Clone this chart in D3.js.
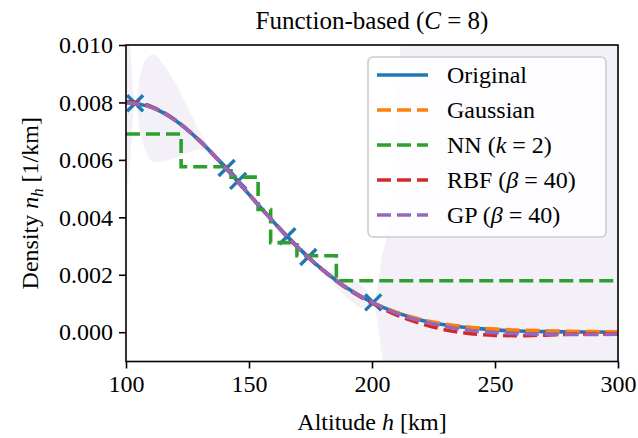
<!DOCTYPE html>
<html><head><meta charset="utf-8">
<script src="https://cdn.jsdelivr.net/npm/d3@7"></script>
<style>
html,body{margin:0;padding:0;background:#fff;}
svg text{font-family:"Liberation Serif","Times New Roman",Times,"DejaVu Serif",serif !important;}
</style></head>
<body>
<script>
// ---- data ----
const altitudes = [100,110,120,130,140,150,160,170,180,190,200,210,220,230,240,250,260,270,280,290,300];
const original  = [0.00800,0.00784,0.00738,0.00666,0.00577,0.00480,0.00384,0.00294,0.00217,0.00153,0.00104,0.00068,0.00042,0.00025,0.00015,0.00008,0.00004,0.00002,0.00001,0.000005,0.0];
const gaussian  = [0.00800,0.00784,0.00738,0.00666,0.00577,0.00480,0.00384,0.00294,0.00217,0.00153,0.00104,0.00069,0.00044,0.00028,0.00017,0.00011,0.00007,0.00005,0.00003,0.00002,0.00001];
const rbf       = [0.00803,0.00787,0.00739,0.00666,0.00577,0.00480,0.00384,0.00294,0.00216,0.00151,0.00101,0.00060,0.00030,0.00008,-0.00005,-0.00011,-0.00012,-0.00010,-0.00007,-0.00006,-0.00006];
const gp        = [0.00800,0.00785,0.00738,0.00666,0.00577,0.00480,0.00384,0.00294,0.00217,0.00153,0.00104,0.00066,0.00039,0.00020,0.00006,-0.00002,-0.00005,-0.00007,-0.00008,-0.00008,-0.00007];

const nnEdges  = [100,122.4,142.7,153.7,158.8,169.5,185.5,300];
const nnValues = [0.0069,0.00576,0.0054,0.00427,0.00312,0.00266,0.00179];

const sampleAlt = [103.7,140.9,145.6,165.6,174.1,200.5];
const sampleVal = [0.00797,0.00572,0.00527,0.00334,0.00262,0.00104];

const bandAlt   = [100,101.5,103.7,106,108,111,115,120,125,130,135,140.9,145.6,150,155,160,165.6,170,174.1,180,185,190,195,198,200.5,202,204,206,208,210,212,215,220,300];
const bandUpper = [0.0115,0.0102,0.00797,0.00904,0.0095,0.00967,0.00934,0.00867,0.00785,0.00696,0.00632,0.00572,0.00526,0.00484,0.00438,0.00388,0.00332,0.00297,0.00261,0.00227,0.00203,0.00186,0.00167,0.00143,0.00103,0.00146,0.00258,0.0034,0.00494,0.00738,0.0106,0.015,0.03,0.05];
const bandLower = [0.0045,0.0058,0.00797,0.00684,0.0063,0.00593,0.00594,0.00607,0.00625,0.00636,0.00612,0.00572,0.00526,0.00476,0.00426,0.0038,0.00332,0.00291,0.00261,0.00207,0.00163,0.0012,0.00087,0.00083,0.00103,0.00046,-0.00082,-0.0018,-0.0035,-0.006,-0.0094,-0.015,-0.03,-0.05];

const xTicks = [100,150,200,250,300];
const yTicks = [0.000,0.002,0.004,0.006,0.008,0.010];

const seriesLabels = ["Original","Gaussian","NN","RBF","GP"];
const colors = {Original:"#1f77b4",Gaussian:"#ff7f0e",NN:"#2ca02c",RBF:"#d62728",GP:"#9467bd"};

// ---- layout ----
const W=638,H=438;
const L=126,R=618,T=45,B=361.5;
const FS=24;
const FF="'Liberation Serif','Times New Roman',Times,'DejaVu Serif',serif";
const x=d3.scaleLinear().domain([100,300]).range([L,R]);
const y=d3.scaleLinear().domain([-0.00102,0.010]).range([B,T]);

const svg=d3.select("body").append("svg").attr("width",W).attr("height",H).attr("font-family",FF);
svg.append("defs").append("clipPath").attr("id","clip")
  .append("rect").attr("x",L).attr("y",T).attr("width",R-L).attr("height",B-T);

const plot=svg.append("g").attr("clip-path","url(#clip)");

// GP band
const bandData=bandAlt.map((h,i)=>({h,lo:bandLower[i],hi:bandUpper[i]}));
plot.append("path").datum(bandData)
  .attr("d",d3.area().x(d=>x(d.h)).y0(d=>y(d.lo)).y1(d=>y(d.hi)).curve(d3.curveMonotoneX))
  .attr("fill","#9467bd").attr("fill-opacity",0.1);

const lineGen=d3.line().x(d=>x(d[0])).y(d=>y(d[1])).curve(d3.curveMonotoneX);
const LW=3.6, DASH="14,6";

function drawSeries(vals,color,dashed){
  plot.append("path").datum(altitudes.map((h,i)=>[h,vals[i]]))
    .attr("d",lineGen).attr("fill","none").attr("stroke",color)
    .attr("stroke-width",LW).attr("stroke-dasharray",dashed?DASH:null);
}
drawSeries(original,colors.Original,false);

// sample crosses
const cs=8;
const cross=plot.append("g");
sampleAlt.forEach((h,i)=>{
  const cx=x(h),cy=y(sampleVal[i]);
  cross.append("path").attr("d",`M${cx-cs},${cy-cs}L${cx+cs},${cy+cs}M${cx-cs},${cy+cs}L${cx+cs},${cy-cs}`)
    .attr("stroke",colors.Original).attr("stroke-width",3.4).attr("fill","none");
});

drawSeries(gaussian,colors.Gaussian,true);
// NN step line
const nnPts=nnEdges.map((h,i)=>[h,nnValues[Math.min(i,nnValues.length-1)]]);
plot.append("path").datum(nnPts)
  .attr("d",d3.line().x(d=>x(d[0])).y(d=>y(d[1])).curve(d3.curveStepAfter))
  .attr("fill","none").attr("stroke",colors.NN).attr("stroke-width",LW).attr("stroke-dasharray",DASH);
drawSeries(rbf,colors.RBF,true);
drawSeries(gp,colors.GP,true);

// axes
const xAxis=svg.append("g").attr("transform",`translate(0,${B})`)
  .call(d3.axisBottom(x).tickValues(xTicks).tickSize(7).tickPadding(6).tickFormat(d3.format("d")));
const yAxis=svg.append("g").attr("transform",`translate(${L},0)`)
  .call(d3.axisLeft(y).tickValues(yTicks).tickSize(7).tickPadding(6).tickFormat(d3.format(".3f")));
[xAxis,yAxis].forEach(a=>{
  a.attr("font-family",FF).attr("font-size",FS);
  a.select(".domain").remove();
  a.selectAll(".tick line").attr("stroke","#000").attr("stroke-width",1.6);
  a.selectAll(".tick text").attr("font-size",FS).attr("font-family",FF).attr("fill","#000");
});
// spines
svg.append("rect").attr("x",L).attr("y",T).attr("width",R-L).attr("height",B-T)
  .attr("fill","none").attr("stroke","#000").attr("stroke-width",1.6);

// title
const title=svg.append("text").attr("x",(L+R)/2).attr("y",29).attr("text-anchor","middle").attr("font-size",FS+1);
title.append("tspan").text("Function-based (");
title.append("tspan").attr("font-style","italic").text("C");
title.append("tspan").text(" = 8)");

// x label
const xl=svg.append("text").attr("x",(L+R)/2).attr("y",430).attr("text-anchor","middle").attr("font-size",FS);
xl.append("tspan").text("Altitude ");
xl.append("tspan").attr("font-style","italic").text("h");
xl.append("tspan").text(" [km]");

// y label
const yl=svg.append("text").attr("transform",`translate(38,${(T+B)/2}) rotate(-90)`).attr("text-anchor","middle").attr("font-size",FS);
yl.append("tspan").text("Density ");
yl.append("tspan").attr("font-style","italic").text("n");
yl.append("tspan").attr("font-style","italic").attr("font-size",FS*0.7).attr("dy",5).text("h");
yl.append("tspan").attr("dy",-5).text(" [1/km]");

// legend
const lg=svg.append("g");
lg.append("rect").attr("x",368).attr("y",57).attr("width",238).attr("height",180).attr("rx",5)
  .attr("fill","#fff").attr("fill-opacity",0.8).attr("stroke","#cccccc").attr("stroke-width",1.6);
const legendText={
  Original:[["Original",false]],
  Gaussian:[["Gaussian",false]],
  NN:[["NN (",false],["k",true],[" = 2)",false]],
  RBF:[["RBF (",false],["β",true],[" = 40)",false]],
  GP:[["GP (",false],["β",true],[" = 40)",false]]
};
seriesLabels.forEach((s,i)=>{
  const cy=75+i*35;
  lg.append("line").attr("x1",377).attr("x2",428).attr("y1",cy).attr("y2",cy)
    .attr("stroke",colors[s]).attr("stroke-width",LW).attr("stroke-dasharray",s==="Original"?null:DASH);
  const t=lg.append("text").attr("x",447).attr("y",cy+8).attr("font-size",FS);
  legendText[s].forEach(([str,it])=>t.append("tspan").attr("font-style",it?"italic":null).text(str));
});
</script>
</body></html>
